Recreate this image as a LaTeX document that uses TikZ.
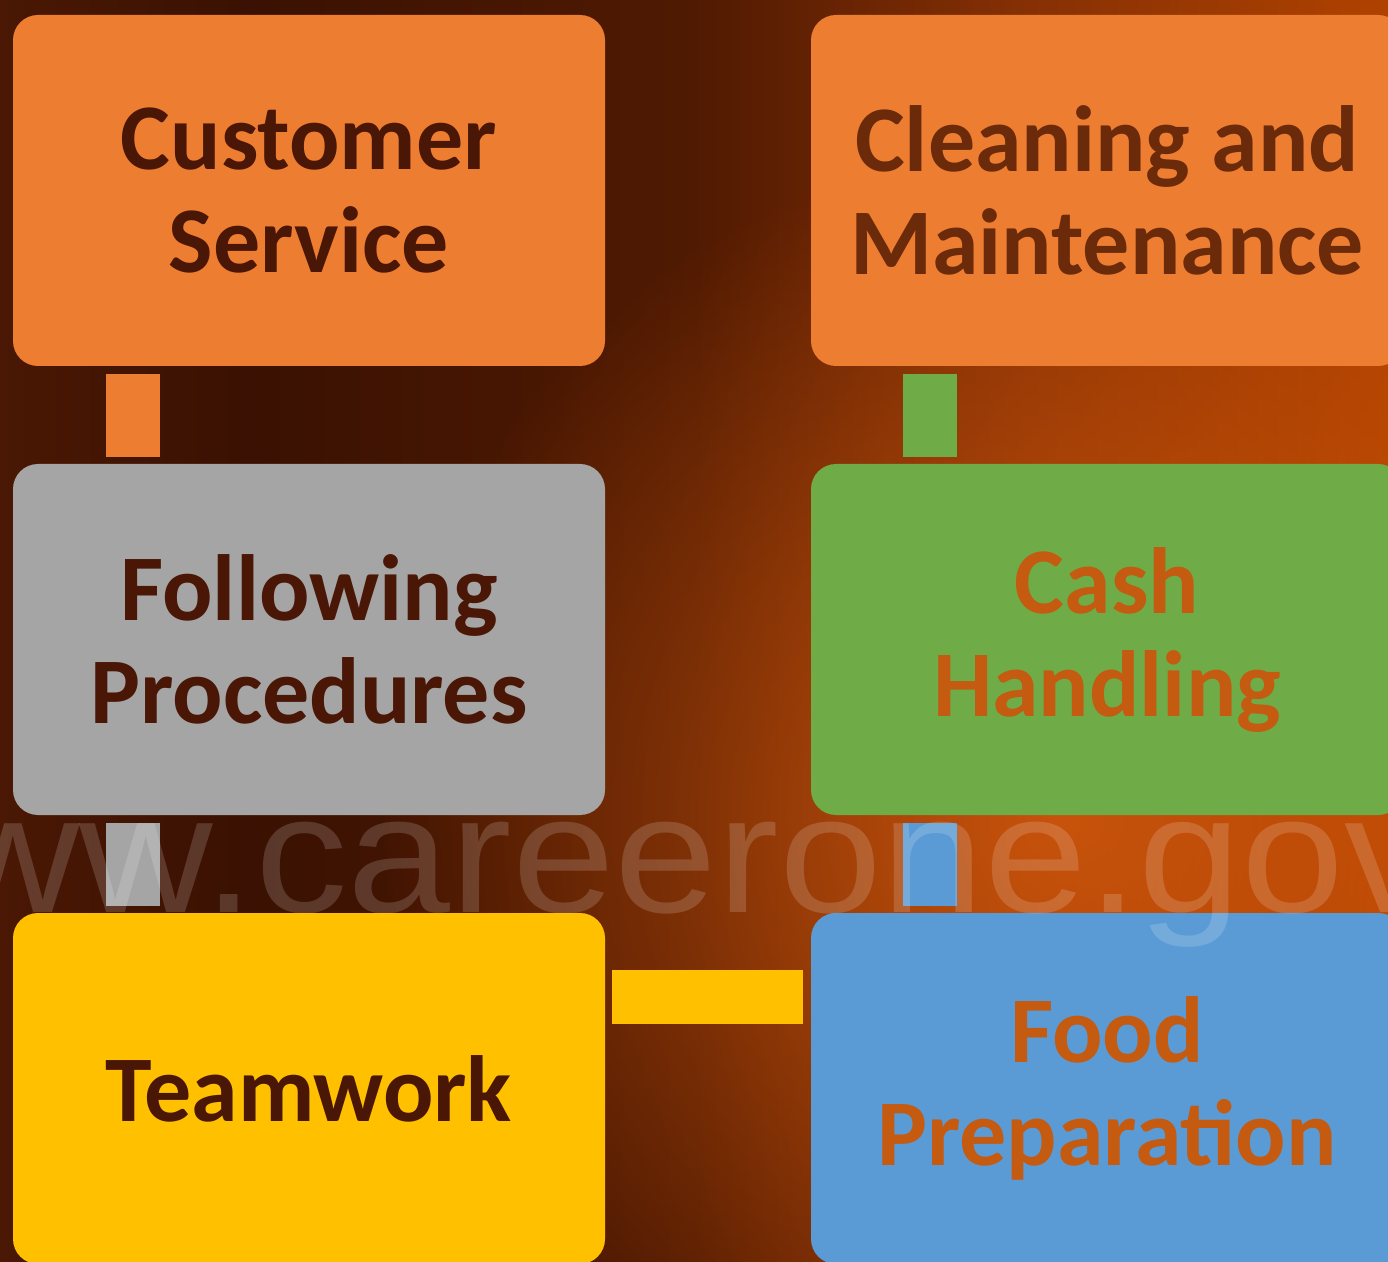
\documentclass[tikz,border=0pt]{standalone}
\usepackage{fontspec}
\setmainfont{Carlito}
\newfontfamily\markfont{Liberation Sans}
\usetikzlibrary{calc,fadings}

\definecolor{boxorange}{HTML}{ED7D31}
\definecolor{boxgray}{HTML}{A5A5A5}
\definecolor{boxgreen}{HTML}{6FAB46}
\definecolor{boxgold}{HTML}{FFC000}
\definecolor{boxblue}{HTML}{5B9BD5}
\definecolor{inkbrown}{HTML}{4A1606}
\definecolor{inkrust}{HTML}{6B2A0A}
\definecolor{inkorange}{HTML}{C55A11}
\definecolor{bgA}{HTML}{4A1804}
\definecolor{bgB}{HTML}{3A1102}
\definecolor{bgC}{HTML}{501A02}
\definecolor{bgD}{HTML}{863004}
\definecolor{bgE}{HTML}{B04200}
\definecolor{glow}{HTML}{DC5E0E}

\pgfdeclarehorizontalshading{bgshade}{100bp}{color(0bp)=(bgA); color(25bp)=(bgA);
  color(34bp)=(bgB); color(50bp)=(bgC); color(62bp)=(bgD); color(75bp)=(bgE); color(100bp)=(bgE)}
\tikzfading[name=glowfade, inner color=transparent!0, outer color=transparent!100]

\newcommand{\tilefont}{\fontsize{47}{51.5}\selectfont\bfseries}

\tikzset{
  tile/.style={rectangle, rounded corners=12.5pt, minimum width=296pt,
    minimum height=175.5pt, inner sep=0pt, align=center, font=\tilefont},
  link/.style={line width=27pt, line cap=butt},
  wmark/.style={font=\markfont\fontsize{84}{84}\selectfont, text=white,
    text opacity=0.16, inner sep=0pt, xscale=1.1, transform shape}
}

\begin{document}
\begin{tikzpicture}[x=0.5pt,y=-0.5pt]
    \useasboundingbox (0,0) rectangle (1388,1262);
    \clip (0,0) rectangle (1388,1262);
    % background
    \shade[shading=bgshade] (0,0) rectangle (1388,1262);
    \fill[glow, path fading=glowfade, opacity=.75] (1060,820) circle (680);

    % the six tiles
    \node[tile, fill=boxorange, text=inkbrown] (cust) at (309,190.5) {Customer\\Service};
    \node[tile, fill=boxorange, text=inkrust] (clean) at (1107,190.5) {Cleaning and\\Maintenance};
    \node[tile, fill=boxgray, text=inkbrown] (follow) at (309,639.5) {Following\\Procedures};
    \node[tile, fill=boxgreen, text=inkorange] (cash) at (1107,639.5) {Cash\\Handling};
    \node[tile, fill=boxgold, text=inkbrown] (team) at (309,1088.5) {Teamwork};
    \node[tile, fill=boxblue, text=inkorange] (food) at (1107,1088.5) {Food\\Preparation};

    % links
    \draw[link, boxorange] ($(cust.south west)+(120,8)$) -- ($(follow.north west)+(120,-7)$);
    \draw[link, boxgray] ($(follow.south west)+(120,8)$) -- ($(team.north west)+(120,-7)$);
    \draw[link, boxgreen] ($(clean.south west)+(119,8)$) -- ($(cash.north west)+(119,-7)$);
    \draw[link, boxblue] ($(cash.south west)+(119,8)$) -- ($(food.north west)+(119,-7)$);
    \draw[link, boxgold] ($(team.north east)+(7,84)$) -- ($(food.north west)+(-8,84)$);

    % watermark
    \node[wmark, anchor=base west] (site) at (255,912) {careerone.gov};
    \node[wmark, anchor=base east] (www) at (site.base west) {ww.};
\end{tikzpicture}
\end{document}
